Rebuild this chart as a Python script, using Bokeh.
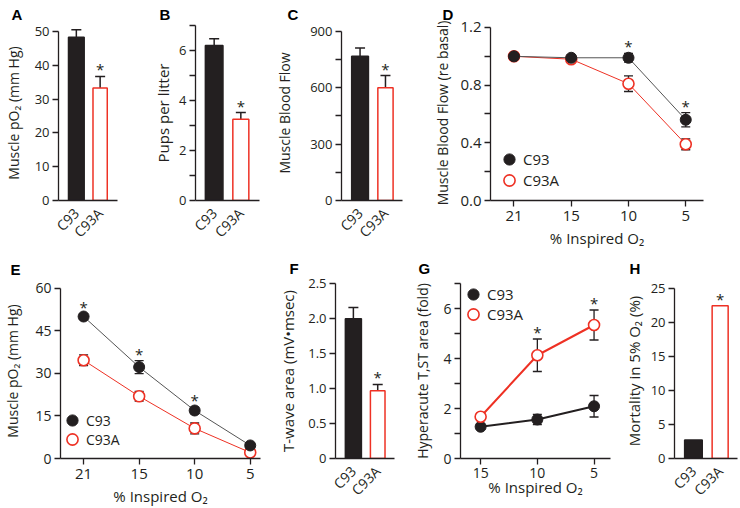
import math
from bokeh.plotting import figure
from bokeh.layouts import row, column
from bokeh.models import (Range1d, FixedTicker, Whisker, TeeHead,
                          ColumnDataSource, Legend, LegendItem)
from bokeh.embed import file_html
from bokeh.resources import INLINE
from bokeh.core.properties import value

# ---------------- data ----------------
groups = ["C93", "C93A"]

# A  muscle pO2
a_mean = [48.3, 33.3]
a_sem = [2.2, 3.4]
a_sig = [False, True]
a_yticks = [0, 10, 20, 30, 40, 50]
a_ylabels = ["0", "10", "20", "30", "40", "50"]

# B  pups per litter
b_mean = [6.2, 3.25]
b_sem = [0.27, 0.27]
b_sig = [False, True]
b_yticks = [0, 2, 4, 6]
b_ylabels = ["0", "2", "4", "6"]
b_yminor = [1, 3, 5, 7]

# C  muscle blood flow
c_mean = [768, 600]
c_sem = [44, 65]
c_sig = [False, True]
c_yticks = [0, 300, 600, 900]
c_ylabels = ["0", "300", "600", "900"]
c_yminor = [150, 450, 750]

# D  muscle blood flow (re basal) vs inspired O2
d_o2 = ["21", "15", "10", "5"]
d_c93 = [1.0, 0.99, 0.99, 0.56]
d_c93_sem = [0.02, 0.02, 0.03, 0.05]
d_c93a = [1.0, 0.98, 0.81, 0.39]
d_c93a_sem = [0.01, 0.02, 0.054, 0.038]
d_sig = [False, False, True, True]
d_yticks = [0.0, 0.4, 0.8, 1.2]
d_ylabels = ["0.0", "0.4", "0.8", "1.2"]
d_yminor = [0.2, 0.6, 1.0]

# E  muscle pO2 vs inspired O2
e_o2 = ["21", "15", "10", "5"]
e_c93 = [50.0, 32.2, 16.9, 4.6]
e_c93_sem = [1.0, 2.3, 1.2, 0.8]
e_c93a = [34.6, 21.9, 10.6, 2.1]
e_c93a_sem = [1.9, 1.7, 1.9, 0.6]
e_sig = [True, True, True, False]
e_yticks = [0, 15, 30, 45, 60]
e_ylabels = ["0", "15", "30", "45", "60"]

# F  T-wave area
f_mean = [2.0, 0.97]
f_sem = [0.16, 0.09]
f_sig = [False, True]
f_yticks = [0, 0.5, 1.0, 1.5, 2.0, 2.5]
f_ylabels = ["0", "0.5", "1.0", "1.5", "2.0", "2.5"]

# G  hyperacute T,ST area vs inspired O2
g_o2 = ["15", "10", "5"]
g_c93 = [1.27, 1.56, 2.09]
g_c93_sem = [0.08, 0.2, 0.43]
g_c93a = [1.67, 4.13, 5.34]
g_c93a_sem = [0.1, 0.65, 0.6]
g_sig = [False, True, True]
g_yticks = [0, 2, 4, 6]
g_ylabels = ["0", "2", "4", "6"]
g_yminor = [1, 3, 5, 7]

# H  mortality in 5% O2
h_mort = [2.7, 22.4]
h_sig = [False, True]
h_yticks = [0, 5, 10, 15, 20, 25]
h_ylabels = ["0", "5", "10", "15", "20", "25"]

# ---------------- styles ----------------
FONT = "Open Sans"
LETTER_FONT = "Liberation Sans"
INK = "#231f20"
RED = "#ee3124"
GREY = "#555555"
AXW = 1.3


def make_fig(width, height, left, right, top, bottom, xr, yr, ybounds,
             letter, loff, lstand):
    p = figure(width=width, height=height,
               x_range=Range1d(*xr), y_range=Range1d(*yr),
               output_backend="svg", toolbar_location=None,
               min_border_left=left, min_border_right=right,
               min_border_top=top, min_border_bottom=bottom)
    p.outline_line_color = None
    p.xgrid.visible = False
    p.ygrid.visible = False
    p.title.text = letter
    p.title.align = "left"
    p.title.offset = loff
    p.title.standoff = lstand
    p.title.text_font = LETTER_FONT
    p.title.text_font_style = "bold"
    p.title.text_font_size = "15px"
    p.title.text_color = "black"
    p.yaxis[0].bounds = ybounds
    for ax in (p.xaxis[0], p.yaxis[0]):
        ax.axis_line_color = INK
        ax.axis_line_width = AXW
        ax.major_tick_line_color = INK
        ax.major_tick_line_width = AXW
        ax.minor_tick_line_color = INK
        ax.minor_tick_line_width = AXW
        ax.major_tick_in = 0
        ax.major_tick_out = 6
        ax.minor_tick_in = 0
        ax.minor_tick_out = 6
        ax.major_label_text_font = FONT
        ax.major_label_text_color = INK
        ax.axis_label_text_font = FONT
        ax.axis_label_text_font_style = "normal"
        ax.axis_label_text_color = INK
    return p


def set_yaxis(p, ticks, labels, minor, label, tick_fs, label_fs, standoff):
    ax = p.yaxis[0]
    ax.ticker = FixedTicker(ticks=ticks, minor_ticks=minor)
    ax.major_label_overrides = {t: l for t, l in zip(ticks, labels)}
    ax.major_label_text_font_size = tick_fs
    ax.major_label_standoff = 3
    ax.axis_label = label
    ax.axis_label_text_font_size = label_fs
    ax.axis_label_standoff = standoff


def add_stars(p, xs, ys, sig, fs="15px"):
    sx = [x for x, s in zip(xs, sig) if s]
    sy = [y for y, s in zip(ys, sig) if s]
    p.text(x=sx, y=sy, text=["*"] * len(sx), text_font=value(FONT),
           text_font_size=fs, text_align="center", text_baseline="alphabetic",
           y_offset=-7, text_color=INK)


def bar_panel(width, height, left, right, top, bottom, xr, yr, means, sems, sig,
              yticks, ylabels, yminor, ylabel, letter, loff, lstand,
              tick_fs="13px", label_fs="14px", standoff=6):
    p = make_fig(width, height, left, right, top, bottom, xr, yr,
                 (yticks[0], max(yticks + yminor)), letter, loff, lstand)
    idx = list(range(len(groups)))
    fill = [INK if g == "C93" else "white" for g in groups]
    edge = [INK if g == "C93" else RED for g in groups]
    wid = [0.66 if g == "C93" else 0.6 for g in groups]
    src = ColumnDataSource(dict(x=idx, top=means, fill=fill, edge=edge, w=wid))
    if sems is not None:
        hi = [m + s for m, s in zip(means, sems)]
        wsrc = ColumnDataSource(dict(x=idx, lo=means, hi=hi))
        p.add_layout(Whisker(source=wsrc, base="x", lower="lo", upper="hi",
                             dimension="height", line_color=INK, line_width=1.5,
                             lower_head=None,
                             upper_head=TeeHead(size=10, line_color=INK, line_width=1.5),
                             level="underlay"))
        star_y = hi
    else:
        star_y = means
    p.vbar(x="x", top="top", bottom=0, width="w", source=src,
           fill_color="fill", line_color="edge", line_width=1.5)
    add_stars(p, idx, star_y, sig)
    xa = p.xaxis[0]
    xa.ticker = FixedTicker(ticks=idx)
    xa.major_label_overrides = {i: g for i, g in zip(idx, groups)}
    xa.major_label_orientation = math.pi / 4
    xa.major_tick_line_color = None
    xa.major_label_text_font_size = "14px"
    xa.major_label_standoff = 4
    set_yaxis(p, yticks, ylabels, yminor, ylabel, tick_fs, label_fs, standoff)
    return p


def point_panel(width, height, left, right, top, bottom, xr, yr, cats,
                s1, e1, s2, e2, sig, star_series, yticks, ylabels, yminor,
                ylabel, letter, loff, lstand, lw1, lc1, lw2, legend_pos,
                xtick_fs="15px", ytick_fs="14px", label_fs="14px", standoff=6,
                xtick_standoff=4, xlabel_standoff=4, red_on_top=False,
                legend_fs="15px"):
    p = make_fig(width, height, left, right, top, bottom, xr, yr,
                 (yticks[0], max(yticks + yminor)), letter, loff, lstand)
    idx = list(range(len(cats)))
    src1 = ColumnDataSource(dict(x=idx, y=s1, lo=[m - e for m, e in zip(s1, e1)],
                                 hi=[m + e for m, e in zip(s1, e1)]))
    src2 = ColumnDataSource(dict(x=idx, y=s2, lo=[m - e for m, e in zip(s2, e2)],
                                 hi=[m + e for m, e in zip(s2, e2)]))
    for s in (src1, src2):
        p.add_layout(Whisker(source=s, base="x", lower="lo", upper="hi",
                             dimension="height", line_color=INK, line_width=1.3,
                             lower_head=TeeHead(size=9, line_color=INK, line_width=1.3),
                             upper_head=TeeHead(size=9, line_color=INK, line_width=1.3),
                             level="underlay"))

    def draw_c93():
        p.line("x", "y", source=src1, line_color=lc1, line_width=lw1)
        return p.scatter("x", "y", source=src1, size=11, marker="circle",
                         fill_color=INK, line_color=INK, line_width=1)

    def draw_c93a():
        p.line("x", "y", source=src2, line_color=RED, line_width=lw2)
        return p.scatter("x", "y", source=src2, size=11, marker="circle",
                         fill_color="white", line_color=RED, line_width=1.6)

    if red_on_top:
        r1 = draw_c93()
        r2 = draw_c93a()
    else:
        r2 = draw_c93a()
        r1 = draw_c93()
    src_star = src1 if star_series == 1 else src2
    add_stars(p, idx, src_star.data["hi"], sig)
    xa = p.xaxis[0]
    xa.ticker = FixedTicker(ticks=idx)
    xa.major_label_overrides = {i: c for i, c in zip(idx, cats)}
    xa.major_label_text_font_size = xtick_fs
    xa.major_label_standoff = xtick_standoff
    xa.axis_label = "% Inspired O\u2082"
    xa.axis_label_text_font_size = "15px"
    xa.axis_label_standoff = xlabel_standoff
    set_yaxis(p, yticks, ylabels, yminor, ylabel, ytick_fs, label_fs, standoff)
    for r, g, (lx, ly) in zip((r1, r2), groups, legend_pos):
        lg = Legend(items=[LegendItem(label=g, renderers=[r])], location=(lx, ly),
                    glyph_width=28, glyph_height=28, label_height=28,
                    label_standoff=0, padding=0, margin=0, spacing=0,
                    border_line_color=None, background_fill_alpha=0,
                    label_text_font=FONT, label_text_font_size=legend_fs,
                    label_text_color=INK)
        p.add_layout(lg)
    return p


# ---------------- panels ----------------
# top row: common frame (top border 24, bottom border 50)
pA = bar_panel(150, 250, 50, 33, 24, 50, (-0.75, 1.73), (0, 51.76), a_mean, a_sem, a_sig,
               a_yticks, a_ylabels, [], "Muscle pO\u2082 (mm Hg)", "A", -47, 6,
               standoff=9)
pB = bar_panel(122, 250, 43, 13, 24, 50, (-0.70, 1.70), (0, 7), b_mean, b_sem, b_sig,
               b_yticks, b_ylabels, b_yminor, "Pups per litter", "B", -36, 6,
               label_fs="15px", standoff=3)
pC = bar_panel(158, 250, 64, 28, 24, 50, (-0.73, 1.67), (0, 931.8), c_mean, c_sem, c_sig,
               c_yticks, c_ylabels, c_yminor, "Muscle Blood Flow", "C", -54, 6,
               standoff=13)
pD = point_panel(310, 250, 57, 37, 24, 50, (-0.41, 3.31), (0, 1.2138), d_o2,
                 d_c93, d_c93_sem, d_c93a, d_c93a_sem, d_sig, 1,
                 d_yticks, d_ylabels, d_yminor, "Muscle Blood Flow (re basal)",
                 "D", -48, 6, 1, GREY, 1, [(5, 27), (5, 6)],
                 xtick_fs="15px", ytick_fs="15px", standoff=5,
                 xtick_standoff=4, xlabel_standoff=4)

# bottom row: common frame (top border 32, bottom border 49)
pE = point_panel(275, 258, 52, 15, 32, 49, (-0.416, 3.185), (0, 61.63), e_o2,
                 e_c93, e_c93_sem, e_c93a, e_c93a_sem, e_sig, 1,
                 e_yticks, e_ylabels, [], "Muscle pO\u2082 (mm Hg)",
                 "E", -50, 12, 1, GREY, 1, [(-2, 24), (-2, 5)],
                 xtick_fs="15px", ytick_fs="14px", standoff=10,
                 xtick_standoff=4, xlabel_standoff=4, legend_fs="14px")
pF = bar_panel(135, 258, 53, 16, 32, 49, (-0.735, 1.69), (0, 2.504), f_mean, f_sem, f_sig,
               f_yticks, f_ylabels, [], "T-wave area (mV\u2022msec)", "F", -46, 14,
               label_fs="15px", standoff=7)
pG = point_panel(210, 258, 46, 10, 32, 49, (-0.355, 2.29), (0, 7.0), g_o2,
                 g_c93, g_c93_sem, g_c93a, g_c93a_sem, g_sig, 2,
                 g_yticks, g_ylabels, g_yminor, "Hyperacute T,ST area (fold)",
                 "G", -42, 14, 2, INK, 2, [(-1, 150), (-1, 130)],
                 xtick_fs="14px", ytick_fs="14px", standoff=8,
                 xtick_standoff=3, xlabel_standoff=-4, red_on_top=True)
pH = bar_panel(120, 258, 51, 3, 32, 49, (-0.71, 1.65), (0, 25.68), h_mort, None, h_sig,
               h_yticks, h_ylabels, [], "Mortality in 5% O\u2082 (%)", "H", -45, 14,
               label_fs="15px", standoff=4)

top_row = row(pA, pB, pC, pD, spacing=0)
bottom_row = row(pE, pF, pG, pH, spacing=0)
layout = column(top_row, bottom_row, spacing=0)

open("out.html", "w").write(file_html(layout, INLINE))
